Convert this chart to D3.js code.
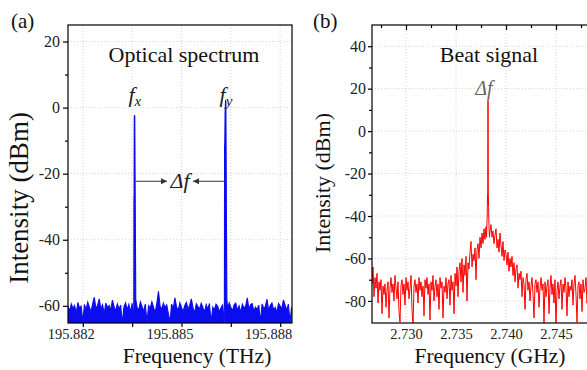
<!DOCTYPE html>
<html>
<head>
<meta charset="utf-8">
<script src="https://cdn.jsdelivr.net/npm/d3@7"></script>
<style>
  body { margin: 0; background: #fff; }
  svg { display: block; font-family: "Liberation Serif", "DejaVu Serif", serif; }
</style>
</head>
<body>
<script>
// ---- panel (a): optical spectrum (THz, dBm) ----
const sweepA = { start: 195.88155, step: 0.00005 }
const noiseA = [
  -60.2, -61.5, -59.4, -60.8, -59.9, -62.2, -59.0, -60.6, -60.1, -64.8,
  -59.6, -61.2, -58.9, -60.4, -61.8, -59.3, -57.4, -60.9, -59.8, -57.9,
  -61.0, -59.7, -62.3, -59.2, -60.6, -59.9, -61.4, -58.3, -60.2, -61.6,
  -59.4, -61.0, -59.8, -65.2, -60.3, -59.1, -61.2, -59.6, -62.0, -59.2,
  -65.5, -59.3, -60.5, -61.3, -58.8, -60.2, -61.7, -59.5, -65.0, -60.0,
  -60.7, -58.8, -60.4, -62.1, -59.3, -55.6, -60.1, -61.0, -59.2, -60.6,
  -59.7, -62.3, -65.0, -59.5, -60.8, -57.6, -60.3, -61.5, -59.1, -60.5,
  -61.7, -59.9, -59.0, -61.1, -59.8, -57.9, -60.6, -62.1, -59.4, -60.2,
  -60.9, -59.2, -60.5, -61.9, -59.6, -61.0, -59.3, -65.1, -60.4, -61.2,
  -59.5, -60.1, -61.8, -60.6, -59.8, -65.5, -60.3, -60.9, -59.1, -60.4,
  -61.5, -59.7, -59.2, -61.3, -60.0, -62.0, -59.5, -60.7, -60.1, -57.6,
  -61.0, -59.6, -59.3, -61.6, -60.4, -61.1, -59.8, -65.0, -59.4, -60.8,
  -60.2, -58.0, -61.4, -59.9, -59.1, -61.2, -60.5, -62.0, -59.3, -60.1,
  -60.9, -58.2, -59.7, -61.3, -59.5, -64.8, -60.4
]
const peakFx = [[195.883555, -28], [195.88356, -26], [195.883565, -3], [195.88357, -2.3], [195.88358, -2.6], [195.883595, -30], [195.88361, -58]]
const peakFy = [[195.886305, -58], [195.88631, -12], [195.886318, -10], [195.886325, -2], [195.88634, 2.3], [195.88635, 1.5], [195.886365, -30], [195.88638, -58]]
const xTicksA = [195.882, 195.8835, 195.885, 195.8865, 195.888]
const xLabelsA = [195.882, 195.885, 195.888]
const yTicksA = [-60, -40, -20, 0, 20]
const yMinorA = [-50, -30, -10, 10]
const peakNamesA = [{ f: 195.88357, sub: 'x' }, { f: 195.88634, sub: 'y' }]
const peakNameLevelA = 1.7
const deltaArrowsA = [[195.88361, 195.88456], [195.88632, 195.88535]]
const deltaLevelA = -22.3

// ---- panel (b): beat signal (GHz, dBm) ----
const sweepB = { start: 2.7265, step: 0.0001 }
const noiseB = [
  -66, -72, -64, -78, -69, -74, -67, -81, -71, -75,
  -70, -86, -73, -77, -72, -83, -75, -71, -88, -74,
  -69, -76, -72, -80, -68, -74, -79, -71, -85, -90,
  -73, -70, -77, -72, -82, -69, -75, -71, -79, -74,
  -68, -84, -92, -73, -70, -76, -72, -81, -69, -75,
  -71, -78, -73, -87, -70, -74, -69, -77, -72, -89,
  -71, -75, -68, -80, -73, -70, -78, -72, -84, -69,
  -74, -71, -88, -73, -76, -69, -79, -72, -70, -82,
  -68, -75, -71, -86, -67, -73, -64, -78, -66, -62,
  -71, -60, -76, -63, -68, -59, -80, -62, -65, -57,
  -52, -64, -58, -61, -55, -70, -56, -53, -60, -50,
  -55, -48, -53, -46, -51, -45, -44, -40, -44, -47,
  -44, -50, -47, -53, -49, -46, -55, -51, -57, -48,
  -54, -59, -52, -61, -56, -58, -63, -57, -66, -60,
  -64, -59, -68, -62, -71, -65, -63, -74, -67, -70,
  -66, -78, -69, -72, -84, -70, -67, -75, -71, -80,
  -73, -69, -77, -88, -72, -70, -76, -71, -83, -74,
  -69, -75, -72, -91, -71, -78, -73, -70, -86, -74,
  -68, -77, -72, -81, -70, -92, -75, -71, -79, -73,
  -70, -84, -72, -76, -69, -74, -87, -71, -78, -73,
  -75, -70, -82, -72, -68, -77, -90, -73, -71, -79,
  -72, -85, -70, -76, -74, -69, -81, -73, -78, -71
]
const peakB = [[2.73805, -50], [2.73812, -40], [2.73815, -30], [2.73817, -33], [2.73819, 5], [2.7382, 14.5], [2.73821, 5], [2.73823, -30], [2.73826, -36], [2.7383, -45], [2.73835, -50]]
const xTicksB = [2.730, 2.735, 2.740, 2.745]
const xMinorB = [2.7275, 2.7325, 2.7375, 2.7425, 2.7475]
const yTicksB = [-80, -60, -40, -20, 0, 20, 40]
const yMinorB = [-70, -50, -30, -10, 10, 30]

const W = 587, H = 370
const svg = d3.select('body').append('svg').attr('width', W).attr('height', H)

// merge a uniform noise sweep with hand-read peak points
function series(sweep, noise, peaks) {
  let pts = noise.map((v, i) => [sweep.start + i * sweep.step, v])
  for (const pk of peaks) {
    const lo = pk[0][0], hi = pk[pk.length - 1][0]
    pts = pts.filter(p => p[0] < lo || p[0] > hi).concat(pk)
  }
  return pts.sort((a, b) => a[0] - b[0])
}

function frame(o) {
  const x = d3.scaleLinear().domain(o.xDomain).range([o.left, o.right])
  const y = d3.scaleLinear().domain(o.yDomain).range([o.bottom, o.top])
  const g = svg.append('g')
  const grid = g.append('g').attr('stroke', '#c9c9c9').attr('stroke-width', 0.8).attr('stroke-dasharray', '1,2')
  grid.selectAll('line.h').data(o.yGrid).join('line').attr('class', 'h')
    .attr('x1', o.left).attr('x2', o.right).attr('y1', d => y(d)).attr('y2', d => y(d))
  grid.selectAll('line.v').data(o.xGrid).join('line').attr('class', 'v')
    .attr('y1', o.top).attr('y2', o.bottom).attr('x1', d => x(d)).attr('x2', d => x(d))
  const clipId = 'clip-' + o.name
  svg.append('clipPath').attr('id', clipId).append('rect')
    .attr('x', o.left).attr('y', o.top).attr('width', o.right - o.left).attr('height', o.bottom - o.top)
  const data = g.append('g').attr('clip-path', `url(#${clipId})`)
  return { g, x, y, data }
}

function styleAxis(sel, size) {
  sel.select('.domain').remove()
  sel.selectAll('.tick line').attr('stroke', '#000').attr('stroke-width', 1.2)
  sel.selectAll('.tick text').attr('fill', '#222').style('font-size', size + 'px')
    .style('font-family', '"Liberation Serif", "DejaVu Serif", serif')
}

// ================= panel (a) =================
const A = { name: 'a', left: 68, right: 292, top: 25, bottom: 323,
  xDomain: [195.88155, 195.88836], yDomain: [-65.2, 25], xGrid: xTicksA, yGrid: yTicksA }
const pa = frame(A)
const dataA = series(sweepA, noiseA, [peakFx, peakFy])
const blue = '#0c0cf0'
pa.data.append('path').datum(dataA)
  .attr('d', d3.area().x(d => pa.x(d[0])).y0(A.bottom + 2).y1(d => pa.y(d[1])))
  .attr('fill', blue)
pa.data.append('path').datum(dataA)
  .attr('d', d3.line().x(d => pa.x(d[0])).y(d => pa.y(d[1])))
  .attr('fill', 'none').attr('stroke', blue).attr('stroke-width', 1.1)

pa.g.append('g').attr('transform', `translate(${A.left},0)`)
  .call(d3.axisLeft(pa.y).tickValues(yTicksA).tickSize(5).tickPadding(3).tickFormat(d => String(d)))
  .call(s => styleAxis(s, 16))
pa.g.append('g').attr('transform', `translate(${A.left},0)`)
  .call(d3.axisLeft(pa.y).tickValues(yMinorA).tickSize(3).tickFormat(''))
  .call(s => styleAxis(s, 16))
pa.g.append('g').attr('transform', `translate(0,${A.bottom})`)
  .call(d3.axisBottom(pa.x).tickValues(xTicksA).tickSize(4).tickPadding(2)
    .tickFormat(d => xLabelsA.some(v => Math.abs(v - d) < 1e-7) ? d3.format('.3f')(d) : ''))
  .call(s => styleAxis(s, 14.5))
  .call(s => s.selectAll('.tick text').attr('dx', -12))
pa.g.append('rect').attr('x', A.left).attr('y', A.top)
  .attr('width', A.right - A.left).attr('height', A.bottom - A.top)
  .attr('fill', 'none').attr('stroke', '#000').attr('stroke-width', 1.2)

// peak names f_x, f_y
const nameA = pa.g.selectAll('text.pk').data(peakNamesA).join('text').attr('class', 'pk')
  .attr('x', d => pa.x(d.f) - 6).attr('y', pa.y(peakNameLevelA))
  .style('font-size', '22px').style('font-style', 'italic').attr('fill', '#222')
nameA.append('tspan').text('f')
nameA.append('tspan').text(d => d.sub).style('font-size', '15px').attr('dy', 4)

// Δf arrows
svg.append('defs').append('marker').attr('id', 'arr')
  .attr('viewBox', '0 0 6 6').attr('refX', 6).attr('refY', 3)
  .attr('markerWidth', 6).attr('markerHeight', 6).attr('markerUnits', 'userSpaceOnUse').attr('orient', 'auto')
  .append('path').attr('d', 'M0,0L6,3L0,6Z').attr('fill', '#333')
pa.g.selectAll('line.arrow').data(deltaArrowsA).join('line').attr('class', 'arrow')
  .attr('x1', d => pa.x(d[0])).attr('x2', d => pa.x(d[1]))
  .attr('y1', pa.y(deltaLevelA)).attr('y2', pa.y(deltaLevelA))
  .attr('stroke', '#333').attr('stroke-width', 1).attr('marker-end', 'url(#arr)')
pa.g.append('text')
  .attr('x', (pa.x(deltaArrowsA[0][1]) + pa.x(deltaArrowsA[1][1])) / 2).attr('y', pa.y(deltaLevelA) + 7)
  .attr('text-anchor', 'middle').style('font-size', '22px').style('font-style', 'italic').attr('fill', '#222')
  .text('Δf')

pa.g.append('text').attr('x', (A.left + A.right) / 2 + 4).attr('y', 62)
  .attr('text-anchor', 'middle').style('font-size', '22px').attr('fill', '#111').text('Optical spectrum')
pa.g.append('text').attr('x', (A.left + A.right) / 2 + 17).attr('y', 362.5)
  .attr('text-anchor', 'middle').style('font-size', '21.5px').attr('fill', '#111').text('Frequency (THz)')
pa.g.append('text').attr('transform', 'translate(28,198) rotate(-90)')
  .attr('text-anchor', 'middle').style('font-size', '27px').attr('fill', '#111').text('Intensity (dBm)')
pa.g.append('text').attr('x', 11).attr('y', 28).style('font-size', '21px').attr('fill', '#111').text('(a)')

// ================= panel (b) =================
const B = { name: 'b', left: 372, right: 600, top: 25, bottom: 323,
  xDomain: [2.7266, 2.7494], yDomain: [-90.4, 50], xGrid: xTicksB, yGrid: yTicksB }
const pb = frame(B)
const dataB = series(sweepB, noiseB, [peakB])
pb.data.append('path').datum(dataB)
  .attr('d', d3.line().x(d => pb.x(d[0])).y(d => pb.y(d[1])))
  .attr('fill', 'none').attr('stroke', '#ff0000').attr('stroke-width', 1)

pb.g.append('g').attr('transform', `translate(${B.left},0)`)
  .call(d3.axisLeft(pb.y).tickValues(yTicksB).tickSize(4).tickPadding(2).tickFormat(d => String(d)))
  .call(s => styleAxis(s, 16))
pb.g.append('g').attr('transform', `translate(${B.left},0)`)
  .call(d3.axisLeft(pb.y).tickValues(yMinorB).tickSize(3).tickFormat(''))
  .call(s => styleAxis(s, 16))
pb.g.append('g').attr('transform', `translate(0,${B.bottom})`)
  .call(d3.axisBottom(pb.x).tickValues(xTicksB).tickSize(0).tickPadding(6).tickFormat(d3.format('.3f')))
  .call(s => styleAxis(s, 14.5))
pb.g.append('g').attr('transform', `translate(0,${B.top})`)
  .call(d3.axisTop(pb.x).tickValues(xTicksB).tickSize(-5).tickFormat(''))
  .call(s => styleAxis(s, 15))
pb.g.append('g').attr('transform', `translate(0,${B.top})`)
  .call(d3.axisTop(pb.x).tickValues(xMinorB).tickSize(-3).tickFormat(''))
  .call(s => styleAxis(s, 15))
pb.g.append('rect').attr('x', B.left).attr('y', B.top)
  .attr('width', B.right - B.left).attr('height', B.bottom - B.top)
  .attr('fill', 'none').attr('stroke', '#000').attr('stroke-width', 1.2)

pb.g.append('text').attr('x', pb.x(2.7382) - 4).attr('y', 95)
  .attr('text-anchor', 'middle').style('font-size', '20px').style('font-style', 'italic').attr('fill', '#666')
  .text('Δf')
pb.g.append('text').attr('x', 489).attr('y', 62)
  .attr('text-anchor', 'middle').style('font-size', '22px').attr('fill', '#111').text('Beat signal')
pb.g.append('text').attr('x', 490).attr('y', 362.5)
  .attr('text-anchor', 'middle').style('font-size', '21.5px').attr('fill', '#111').text('Frequency (GHz)')
pb.g.append('text').attr('transform', 'translate(330,183) rotate(-90)')
  .attr('text-anchor', 'middle').style('font-size', '22px').attr('fill', '#111').text('Intensity (dBm)')
pb.g.append('text').attr('x', 313).attr('y', 28).style('font-size', '21px').attr('fill', '#111').text('(b)')
</script>
</body>
</html>
